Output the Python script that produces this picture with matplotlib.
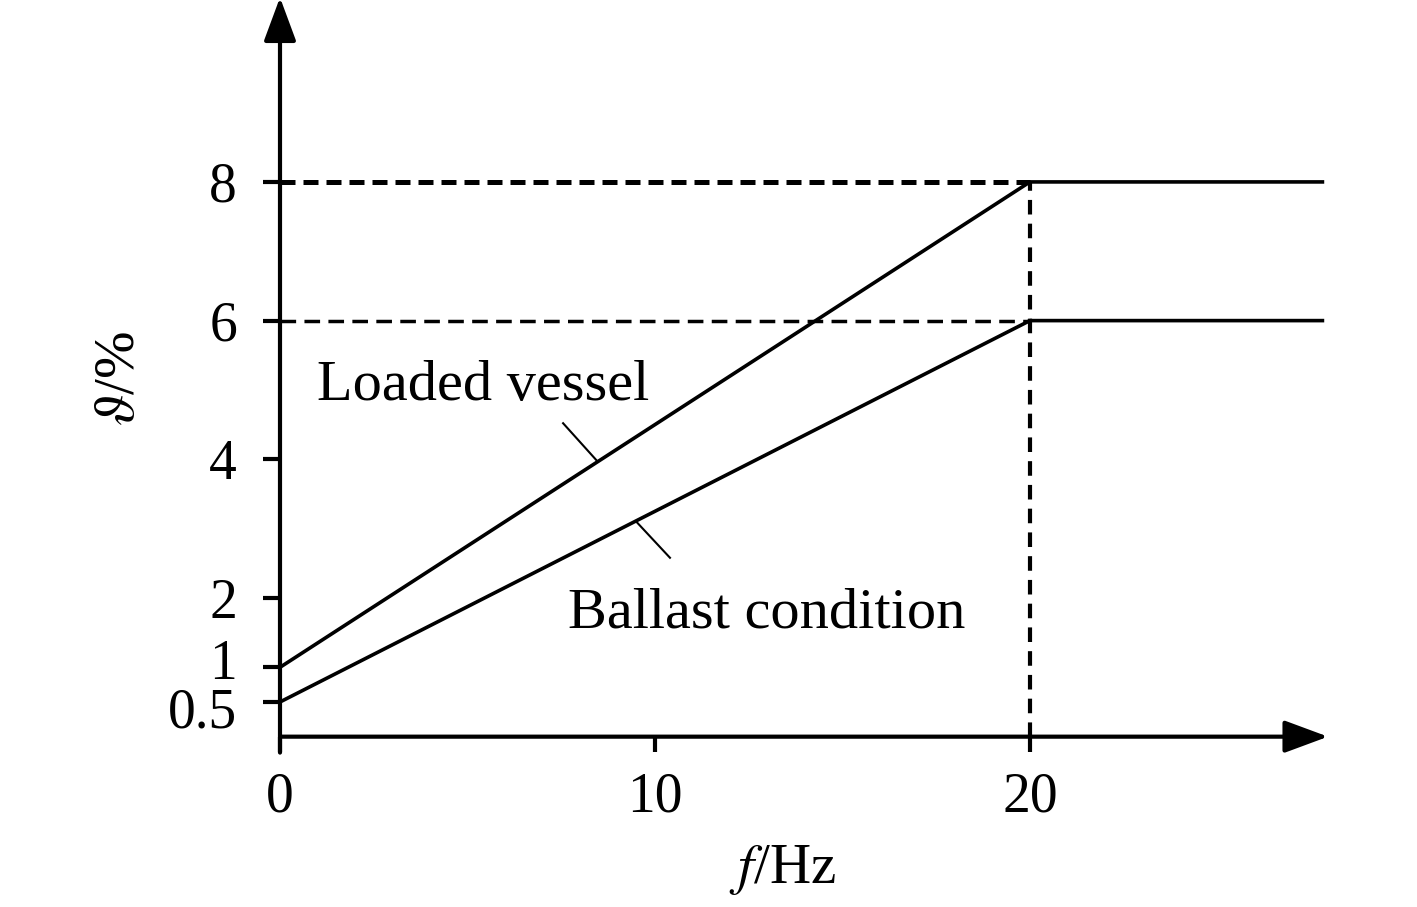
import matplotlib
matplotlib.use('Agg')
import matplotlib.pyplot as plt
import matplotlib.transforms as mtransforms

plt.rcParams['font.family'] = ['Liberation Serif', 'DejaVu Serif']
plt.rcParams['mathtext.fontset'] = 'stix'

# data
loaded_f = [0, 20, 27.8]
loaded_v = [1, 8, 8]
ballast_f = [0, 20, 27.8]
ballast_v = [0.5, 6, 6]
f_knee = 20
xticks = [0, 10, 20]
yticks = [0.5, 1, 2, 4, 6, 8]
yticklabels = ['0.5', '1', '2', '4', '6', '8']

fig = plt.figure(figsize=(14.17, 9.07), dpi=100)
ax = fig.add_axes([0.1976, 0.1878, 0.7375, 0.8104])
ax.set_xlim(0, 27.87)
ax.set_ylim(0, 10.6)
for s in ax.spines.values():
    s.set_visible(False)

# axes with arrows
arrow = dict(arrowstyle='-|>,head_length=1.35,head_width=0.5', mutation_scale=20,
             lw=3, color='black', shrinkA=0, shrinkB=0)
ax.annotate('', xy=(27.95, 0), xytext=(0, 0), arrowprops=arrow, annotation_clip=False)
ax.annotate('', xy=(0, 10.66), xytext=(0, -0.23), arrowprops=arrow, annotation_clip=False)

# guide lines
ax.plot([0, f_knee], [loaded_v[1], loaded_v[1]], color='black', lw=3.6, dashes=(3, 1.6))
ax.plot([0, f_knee], [ballast_v[1], ballast_v[1]], color='black', lw=2.5, dashes=(4.5, 2.4))
ax.plot([f_knee, f_knee], [0, loaded_v[1]], color='black', lw=3, dashes=(3.5, 2.2))

# curves
ax.plot(loaded_f, loaded_v, color='black', lw=2.6, clip_on=False)
ax.plot(ballast_f, ballast_v, color='black', lw=2.6, clip_on=False)

# labels with leaders
ax.plot([7.55, 8.45], [4.52, 3.98], color='black', lw=1.5)
ax.plot([9.52, 10.4], [3.09, 2.58], color='black', lw=1.5)
ax.text(1.0, 4.86, 'Loaded vessel', fontsize=42, ha='left', va='baseline')
ax.text(7.68, 1.57, 'Ballast condition', fontsize=42, ha='left', va='baseline')

ax.set_xticks(xticks)
ax.set_xticklabels([str(t) for t in xticks])
ax.set_yticks(yticks)
ax.set_yticklabels(yticklabels)
ax.tick_params(axis='x', direction='out', length=11, width=3, pad=14, labelsize=40)
ax.tick_params(axis='y', direction='out', length=12, width=3, pad=19, labelsize=40)

# nudge the two crowded labels apart
for lab in ax.get_yticklabels():
    if lab.get_text() == '1':
        lab.set_transform(lab.get_transform() + mtransforms.ScaledTranslation(0, 6 / 72, fig.dpi_scale_trans))
    elif lab.get_text() == '0.5':
        lab.set_transform(lab.get_transform() + mtransforms.ScaledTranslation(0, -4 / 72, fig.dpi_scale_trans))

ax.text(0.481, -0.181, r'$f$/Hz', transform=ax.transAxes, fontsize=41,
        ha='center', va='center')
ax.text(-0.153, 0.488, r'$\vartheta$/%', transform=ax.transAxes, fontsize=41,
        ha='center', va='center', rotation=90)

fig.savefig('out.png', dpi=100)
